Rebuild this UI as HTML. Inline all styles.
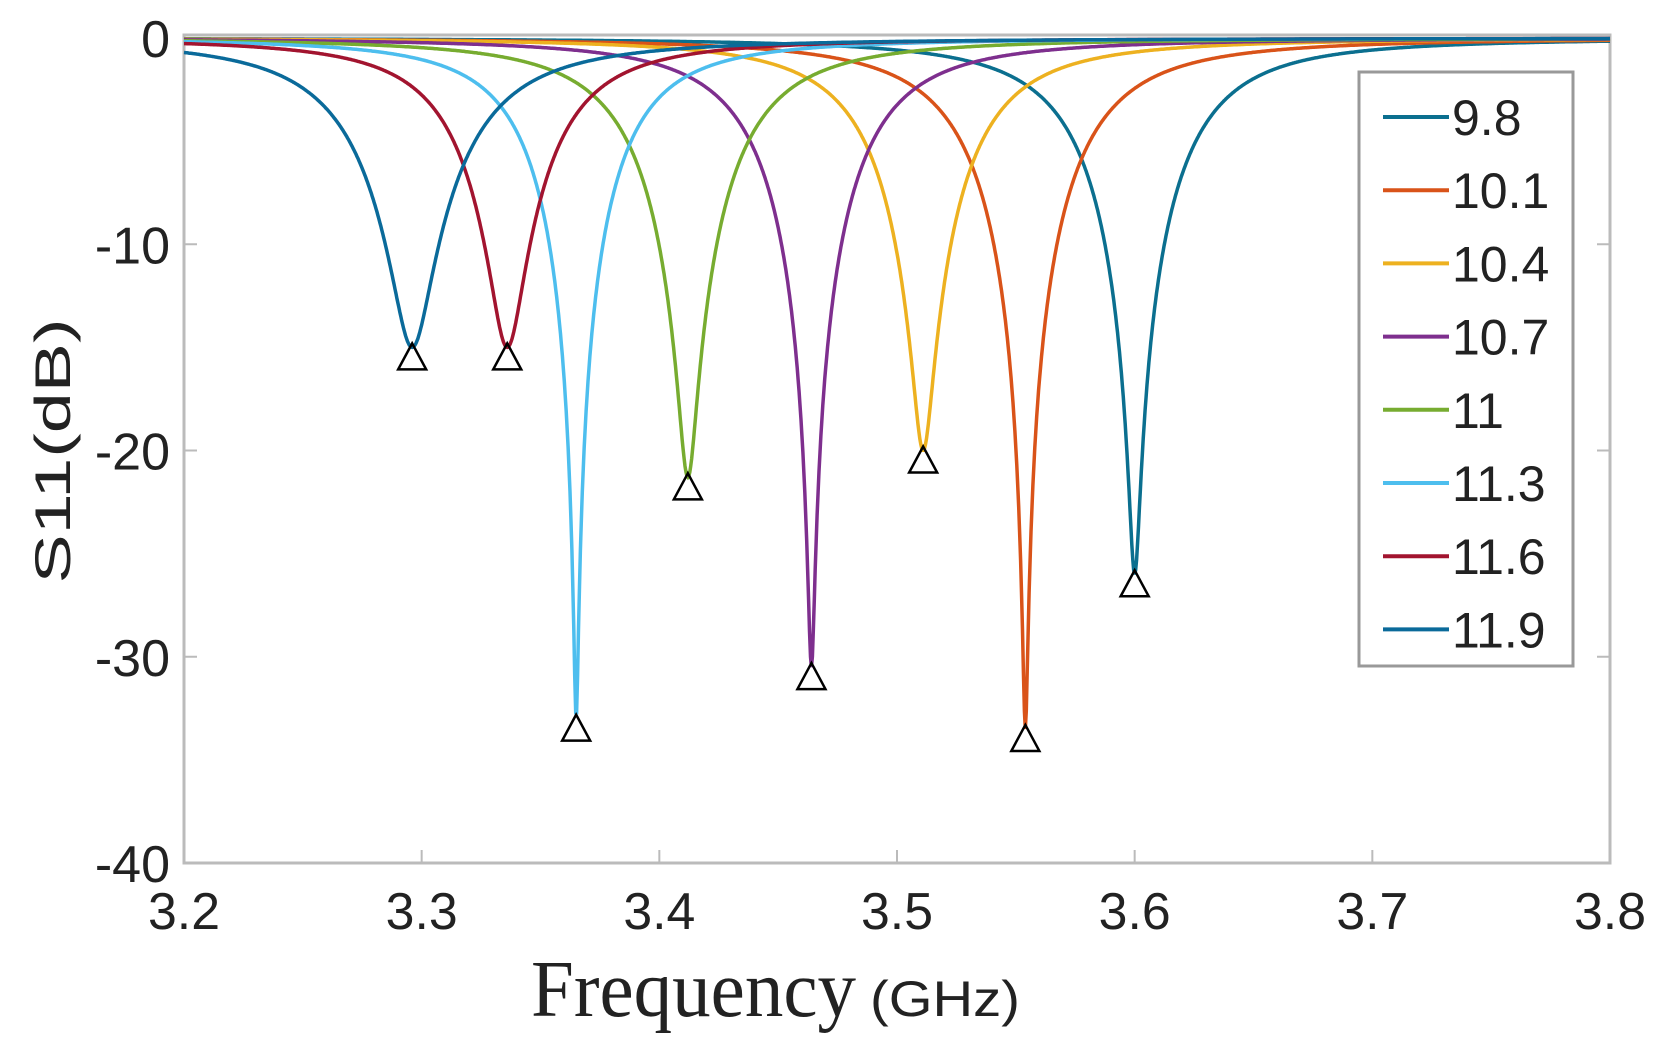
<!DOCTYPE html>
<html><head><meta charset="utf-8"><style>
html,body{margin:0;padding:0;background:#fff;}
svg{display:block;}
text{font-family:"Liberation Sans",sans-serif;fill:#222;}
</style></head><body>
<svg id="chart" width="1664" height="1061" viewBox="0 0 1664 1061" xmlns="http://www.w3.org/2000/svg">
<g id="axes"></g>
<g id="series"></g>
<g id="markers"></g>
<g id="legend"></g>
<text x="0" y="0" font-size="50" text-anchor="middle" textLength="265" lengthAdjust="spacingAndGlyphs" transform="translate(70,451) rotate(-90)">S11(dB)</text>
<text x="531" y="1016"><tspan font-family="Liberation Serif, serif" font-size="80" textLength="325" lengthAdjust="spacingAndGlyphs">Frequency</tspan><tspan font-size="50" dx="14" textLength="150" lengthAdjust="spacingAndGlyphs">(GHz)</tspan></text>
</svg>
<script>
const labels = ["9.8","10.1","10.4","10.7","11","11.3","11.6","11.9"];
const resFreq = [3.600,3.554,3.511,3.464,3.412,3.365,3.336,3.296];
const depthDb = [-26,-33.5,-20,-30.5,-21.3,-33,-15,-15];
const bandwidth = [0.038,0.040,0.037,0.038,0.038,0.034,0.035,0.041];
const colors = ["#0b6f8f","#d95319","#edb120","#7e2f8e","#77ac30","#4dbeee","#a2142f","#0a6a9a"];
const xTicks = [3.2,3.3,3.4,3.5,3.6,3.7,3.8];
const yTicks = [0,-10,-20,-30,-40];

const X0=184,X1=1610,Y0=38,Y1=863;
const xs=f=>X0+(f-3.2)/(0.6)*(X1-X0);
const ys=d=>Y0+(0-d)/40*(Y1-Y0);
const NS="http://www.w3.org/2000/svg";
function mk(tag,attrs,parent){const e=document.createElementNS(NS,tag);for(const k in attrs)e.setAttribute(k,attrs[k]);parent.appendChild(e);return e;}
const axes=document.getElementById('axes');

let frame=mk('rect',{x:X0,y:Y0-3,width:X1-X0,height:Y1-Y0+3,fill:'none',stroke:'#bbb','stroke-width':3},axes);


xTicks.forEach(t=>{
  const x=xs(t);
  let tk=mk('line',{x1:x,x2:x,y1:Y1,y2:Y1-13,stroke:'#bbb','stroke-width':2},axes);
  
  
  let tt=mk('text',{x:x,y:Y1+66,'font-size':52,'text-anchor':'middle',textLength:72,lengthAdjust:'spacingAndGlyphs'},axes);
  tt.textContent=t.toFixed(1);
  
  
});
yTicks.forEach(t=>{
  const y=ys(t);
  let tk=mk('line',{x1:X0,x2:X0+13,y1:y,y2:y,stroke:'#bbb','stroke-width':2},axes);
  
  
  let tk2=mk('line',{x1:X1,x2:X1-13,y1:y,y2:y,stroke:'#bbb','stroke-width':2},axes);
  
  
  let tt=mk('text',{x:X0-14,y:y+19,'font-size':52,'text-anchor':'end'},axes);
  tt.textContent=String(t);
  
  
});

const ser=document.getElementById('series');
const mkg=document.getElementById('markers');
for(let i=0;i<labels.length;i++){
  const A=1-Math.pow(10,depthDb[i]/10);
  let d='';
  for(let f=3.2;f<=3.8001;f+=0.0004){
    const x=(f-resFreq[i])/bandwidth[i];
    const p=1-A/(1+x*x);
    const db=10*Math.log10(p);
    d+=(d?'L':'M')+xs(f).toFixed(1)+','+ys(db).toFixed(1);
  }
  let pth=mk('path',{d:d,fill:'none',stroke:colors[i],'stroke-width':3.5},ser);
  
  
}
for(let i=0;i<labels.length;i++){
  const cx=xs(resFreq[i]), cy=ys(depthDb[i])+10;
  let tri=mk('polygon',{points:`${cx},${cy-14} ${cx-14},${cy+12} ${cx+14},${cy+12}`,fill:'none',stroke:'#000','stroke-width':2.5},mkg);
  
  
}

const leg=document.getElementById('legend');
let lb=mk('rect',{x:1359,y:72,width:214,height:594,fill:'#fff',stroke:'#999','stroke-width':3},leg);


labels.forEach((l,i)=>{
  const y=117+i*73.2;
  let ln=mk('line',{x1:1383,x2:1449,y1:y,y2:y,stroke:colors[i],'stroke-width':4},leg);
  
  
  let tx=mk('text',{x:1452,y:y+18,'font-size':50},leg);
  tx.textContent=l;
  
  
});
</script>
</body></html>
